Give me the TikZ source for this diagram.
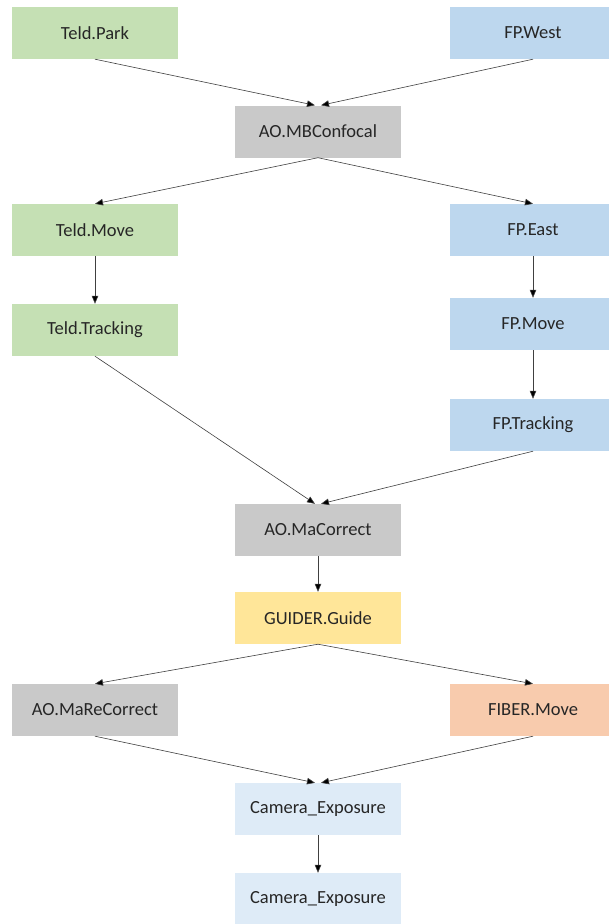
\documentclass[tikz,border=0pt]{standalone}
\usepackage{fontspec}
\setmainfont{Carlito}
\usetikzlibrary{arrows.meta}
\definecolor{cgreen}{HTML}{C5E0B4}
\definecolor{cblue}{HTML}{BDD7EE}
\definecolor{cgray}{HTML}{C9C9C9}
\definecolor{cyellow}{HTML}{FFE699}
\definecolor{corange}{HTML}{F8CBAD}
\definecolor{clblue}{HTML}{DEEBF7}
\definecolor{cline}{HTML}{404040}
\begin{document}
\begin{tikzpicture}[x=1pt,y=-1pt,
  box/.style={draw=none,minimum width=166pt,minimum height=52pt,inner sep=0pt,
    font=\fontsize{18.5}{21}\selectfont, text=black!85},
  conn/.style={draw=cline,line width=0.6pt,-{Triangle[length=8pt,width=6.5pt,fill=black]}}]
\useasboundingbox[fill=white] (0,0) rectangle (608,924);
\node[box,fill=cgreen] (tpark) at (95,33) {Teld.Park};
\node[box,fill=cblue] (fwest) at (533,33) {FP.West};
\node[box,fill=cgray] (mbc) at (318,131.5) {AO.MBConfocal};
\node[box,fill=cgreen] (tmove) at (95,230) {Teld.Move};
\node[box,fill=cblue] (feast) at (533,230) {FP.East};
\node[box,fill=cgreen] (ttrack) at (95,330) {Teld.Tracking};
\node[box,fill=cblue] (fmove) at (533,324) {FP.Move};
\node[box,fill=cblue] (ftrack) at (533,425) {FP.Tracking};
\node[box,fill=cgray] (mac) at (318,530) {AO.MaCorrect};
\node[box,fill=cyellow] (guide) at (318,618) {GUIDER.Guide};
\node[box,fill=cgray] (marec) at (95,710) {AO.MaReCorrect};
\node[box,fill=corange] (fiber) at (533,710) {FIBER.Move};
\node[box,fill=clblue] (cam1) at (318,809) {Camera\_Exposure};
\node[box,fill=clblue] (cam2) at (318,899) {Camera\_Exposure};
\draw[conn] (tpark.south) -- ([xshift=-3pt]mbc.north);
\draw[conn] (fwest.south) -- ([xshift=3pt]mbc.north);
\draw[conn] (mbc.south) -- (tmove.north);
\draw[conn] (mbc.south) -- (feast.north);
\draw[conn] (tmove.south) -- (ttrack.north);
\draw[conn] (feast.south) -- (fmove.north);
\draw[conn] (fmove.south) -- (ftrack.north);
\draw[conn] (ttrack.south) -- ([xshift=-3pt]mac.north);
\draw[conn] (ftrack.south) -- ([xshift=3pt]mac.north);
\draw[conn] (mac.south) -- (guide.north);
\draw[conn] (guide.south) -- (marec.north);
\draw[conn] (guide.south) -- (fiber.north);
\draw[conn] (marec.south) -- ([xshift=-3pt]cam1.north);
\draw[conn] (fiber.south) -- ([xshift=3pt]cam1.north);
\draw[conn] (cam1.south) -- (cam2.north);
\end{tikzpicture}
\end{document}
